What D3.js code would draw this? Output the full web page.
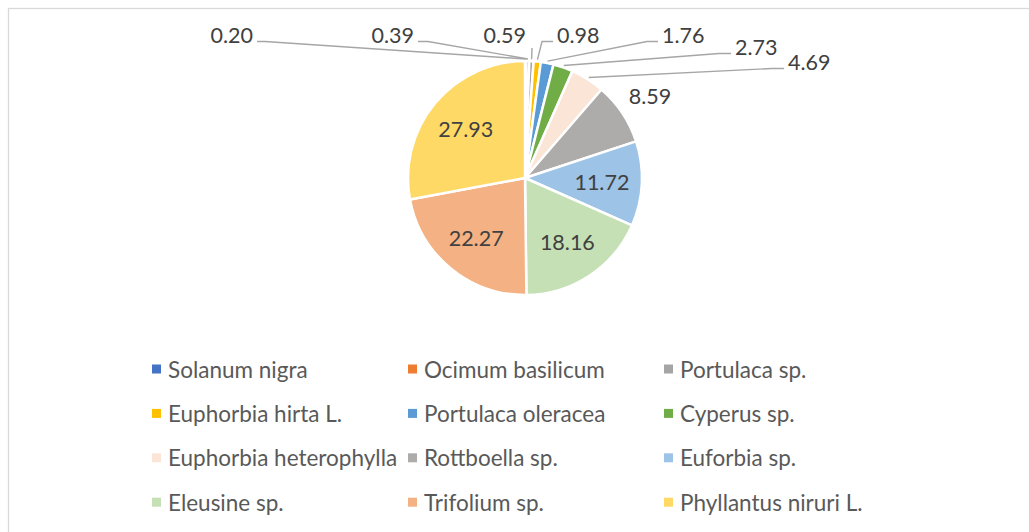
<!DOCTYPE html>
<html>
<head>
<meta charset="utf-8">
<script src="https://cdn.jsdelivr.net/npm/d3@7"></script>
<style>
  html, body { margin: 0; padding: 0; background: #fff; }
  svg { display: block; }
  text { font-family: Lato, "Open Sans", sans-serif; }
</style>
</head>
<body>
<svg id="chart" width="1029" height="532"></svg>
<script>
// ---- data ----
const categories = [
  "Solanum nigra", "Ocimum basilicum", "Portulaca sp.",
  "Euphorbia hirta L.", "Portulaca oleracea", "Cyperus sp.",
  "Euphorbia heterophylla", "Rottboella sp.", "Euforbia sp.",
  "Eleusine sp.", "Trifolium sp.", "Phyllantus niruri L."
];
const values = [0.20, 0.39, 0.59, 0.98, 1.76, 2.73, 4.69, 8.59, 11.72, 18.16, 22.27, 27.93];
const valueLabels = ["0.20", "0.39", "0.59", "0.98", "1.76", "2.73", "4.69", "8.59", "11.72", "18.16", "22.27", "27.93"];
const colors = [
  "#4472C4", "#ED7D31", "#A5A5A5",
  "#FFC000", "#5B9BD5", "#70AD47",
  "#FBE5D6", "#AEABAB", "#9DC3E6",
  "#C5E0B4", "#F4B183", "#FFD966"
];

// ---- layout ----
const W = 1029, H = 532;
const cx = 525, cy = 178, R = 117;
const svg = d3.select("#chart");

// chart border
svg.append("rect")
  .attr("x", 8.5).attr("y", 8.5)
  .attr("width", W + 20).attr("height", H + 20)
  .attr("fill", "#fff").attr("stroke", "#D9D9D9").attr("stroke-width", 1.3);

const color = d3.scaleOrdinal().domain(categories).range(colors);
const pie = d3.pie().sort(null).value(d => d.v);
const data = categories.map((c, i) => ({ c, v: values[i], lab: valueLabels[i] }));
const arcs = pie(data);
const arc = d3.arc().innerRadius(0).outerRadius(R);
const labelArc = d3.arc().innerRadius(77).outerRadius(77);
const edgeArc = d3.arc().innerRadius(R + 2).outerRadius(R + 2);

const g = svg.append("g").attr("transform", `translate(${cx},${cy})`);
g.selectAll("path.slice").data(arcs).enter().append("path")
  .attr("class", "slice")
  .attr("d", arc)
  .attr("fill", d => color(d.data.c))
  .attr("stroke", "#fff").attr("stroke-width", 2.5).attr("stroke-linejoin", "round");

// outer label placement (offsets from pie center), Excel best-fit style
const outerLayout = {
  0: { side: "end",   tx: -272, ty: 43 - cy, stub: 8 },
  1: { side: "end",   tx: -111, ty: 43 - cy, stub: 10 },
  2: { side: "above", tx: 1,    ty: 43 - cy, lx: 7, ly: 48 - cy },
  3: { side: "start", tx: 32,   ty: 43 - cy, stub: 11 },
  4: { side: "start", tx: 137,  ty: 43 - cy, stub: 11 },
  5: { side: "start", tx: 210,  ty: 55 - cy, stub: 12 },
  6: { side: "start", tx: 263,  ty: 70 - cy, stub: 12 },
  7: { side: "free",  tx: 125,  ty: 104 - cy }
};

const labelColor = "#404040";
const leaderColor = "#A6A6A6";
const fs = 21.5;
const legFs = 22.5;

arcs.forEach((d, i) => {
  const L = outerLayout[i];
  if (!L) {
    const [x, y] = labelArc.centroid(d);
    g.append("text")
      .attr("x", x).attr("y", y)
      .attr("text-anchor", "middle").attr("dominant-baseline", "central")
      .attr("font-size", fs).attr("fill", labelColor)
      .text(d.data.lab);
    return;
  }
  const [px, py] = edgeArc.centroid(d);
  const t = g.append("text")
    .attr("y", L.ty)
    .attr("font-size", fs).attr("fill", labelColor)
    .text(d.data.lab);
  if (L.side === "end") {
    t.attr("x", L.tx).attr("text-anchor", "end");
    const sx = L.tx + 4, sy = L.ty - 1.5;
    g.append("path")
      .attr("d", `M${sx},${sy}L${sx + L.stub},${sy}L${px},${py}`)
      .attr("fill", "none").attr("stroke", leaderColor).attr("stroke-width", 1.4);
  } else if (L.side === "start") {
    t.attr("x", L.tx).attr("text-anchor", "start");
    const sx = L.tx - 4, sy = L.ty - 1.5;
    g.append("path")
      .attr("d", `M${sx},${sy}L${sx - L.stub},${sy}L${px},${py}`)
      .attr("fill", "none").attr("stroke", leaderColor).attr("stroke-width", 1.4);
  } else if (L.side === "above") {
    t.attr("x", L.tx).attr("text-anchor", "end");
    g.append("path")
      .attr("d", `M${L.lx},${L.ly}L${px},${py}`)
      .attr("fill", "none").attr("stroke", leaderColor).attr("stroke-width", 1.4);
  } else {
    t.attr("x", L.tx).attr("text-anchor", "middle");
  }
});

// legend
const legX0 = 152, legColW = 256, legY0 = 369, legRowH = 44.4, mk = 9;
const leg = svg.append("g");
categories.forEach((c, i) => {
  const col = i % 3, row = Math.floor(i / 3);
  const x = legX0 + col * legColW, y = legY0 + row * legRowH;
  leg.append("rect")
    .attr("x", x).attr("y", y - mk / 2)
    .attr("width", mk).attr("height", mk)
    .attr("fill", color(c));
  leg.append("text")
    .attr("x", x + 16).attr("y", y)
    .attr("dominant-baseline", "central")
    .attr("font-size", legFs).attr("fill", "#595959")
    .text(c);
});
</script>
</body>
</html>
